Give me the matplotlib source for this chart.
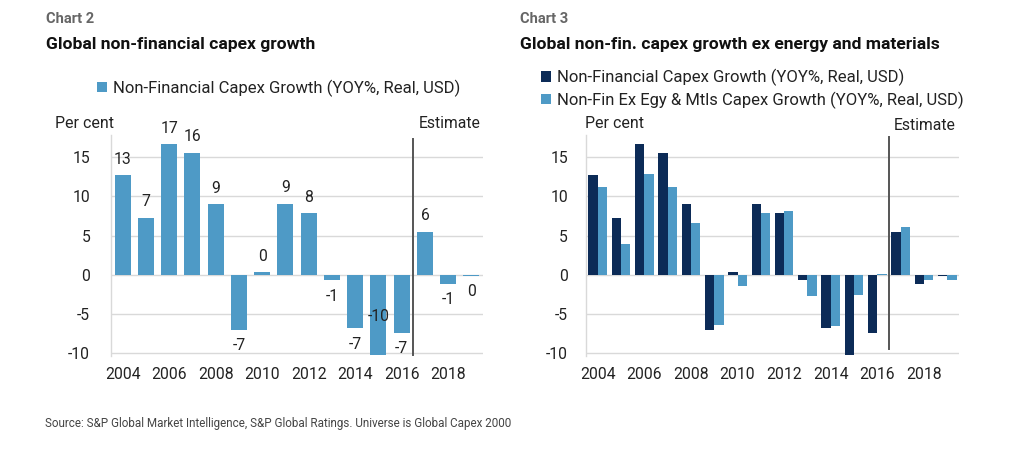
import matplotlib
matplotlib.use("Agg")
import matplotlib.pyplot as plt
import numpy as np

plt.rcParams['font.family'] = ['Roboto', 'DejaVu Sans']

years = list(range(2004, 2020))
nonfin = [12.7, 7.3, 16.7, 15.6, 9.0, -7.0, 0.4, 9.1, 7.9, -0.7, -6.8, -10.2, -7.4, 5.5, -1.1, -0.1]
nonfin_ex = [11.2, 4.0, 12.8, 11.2, 6.6, -6.4, -1.4, 7.9, 8.2, -2.7, -6.5, -2.6, 0.1, 6.1, -0.6, -0.6]
xtick_years = [2004, 2006, 2008, 2010, 2012, 2014, 2016, 2018]
yticks = [-10, -5, 0, 5, 10, 15]

label1 = "Non-Financial Capex Growth (YOY%, Real, USD)"
label2 = "Non-Fin Ex Egy & Mtls Capex Growth (YOY%, Real, USD)"

LIGHT = "#4E9AC6"
DARK = "#0C2B57"
GRID = "#D9D9D9"
TXT = "#222222"

W, H = 1019, 474
fig = plt.figure(figsize=(W / 100, H / 100), dpi=100)
fig.patch.set_facecolor("white")

def fx(px):
    return px / W

def fy(py):
    return 1 - py / H

YLIM = (-10.32, 17.83)
top_px, bot_px = 135, 356
est_split = 12.5  # between 2016 and 2017


def style_axes(ax, ypad):
    ax.set_xlim(-0.5, len(years) - 0.5)
    ax.set_ylim(*YLIM)
    ax.set_yticks(yticks)
    ax.set_yticklabels([str(t) for t in yticks])
    idx = [years.index(y) for y in xtick_years]
    ax.set_xticks(idx)
    ax.set_xticklabels([str(y) for y in xtick_years])
    ax.tick_params(axis='both', length=0, labelsize=11.3, colors=TXT)
    ax.tick_params(axis='y', pad=ypad)
    ax.tick_params(axis='x', pad=8)
    for t in yticks:
        ax.axhline(t, color=GRID, lw=1, zorder=0)
    for s in ['top', 'right', 'bottom']:
        ax.spines[s].set_visible(False)
    ax.spines['left'].set_color(GRID)
    ax.spines['left'].set_linewidth(1)
    ax.set_facecolor("white")


# ---------- Chart 2 ----------
ax1 = fig.add_axes([fx(111), fy(bot_px), fx(483) - fx(111), (bot_px - top_px) / H])
style_axes(ax1, 15)
x = np.arange(len(years))
bars1 = ax1.bar(x, nonfin, width=0.68, color=LIGHT, zorder=2, label=label1)
ax1.axvline(est_split, ymin=0.005, ymax=0.98, color="#555555", lw=1.4, zorder=3)
for xi, v in zip(x, nonfin):
    lab = str(int(round(v)))
    if v >= 0:
        ax1.annotate(lab, (xi, v), xytext=(0, 6), textcoords='offset points',
                     ha='center', va='bottom', fontsize=11.3, color=TXT)
    elif v < YLIM[0] + 1:
        ax1.annotate(lab, (xi, v), xytext=(0, 28), textcoords='offset points',
                     ha='center', va='center', fontsize=11.3, color=TXT)
    else:
        ax1.annotate(lab, (xi, v), xytext=(0, -6), textcoords='offset points',
                     ha='center', va='top', fontsize=11.3, color=TXT)

ax1.legend(handles=[bars1], loc='center left', bbox_to_anchor=(fx(97), fy(88)),
           bbox_transform=fig.transFigure, frameon=False, fontsize=12,
           handlelength=0.6, handleheight=0.6, handletextpad=0.35,
           borderpad=0, borderaxespad=0, labelcolor=TXT)

fig.text(fx(55), fy(123), "Per cent", ha='left', va='center', fontsize=11.5, color=TXT)
fig.text(fx(481), fy(124), "Estimate", ha='right', va='center', fontsize=11.3, color=TXT)
fig.text(fx(46), fy(19), "Chart 2", ha='left', va='center', fontsize=10.5,
         color="#666666", fontweight='bold')
fig.text(fx(46), fy(44), "Global non-financial capex growth", ha='left', va='center',
         fontsize=12.6, color="#111111", fontweight='bold')

# ---------- Chart 3 ----------
ax2 = fig.add_axes([fx(586), fy(bot_px), fx(959) - fx(586), (bot_px - top_px) / H])
style_axes(ax2, 13)
bw = 0.4
b_dark = ax2.bar(x - bw / 2, nonfin, width=bw, color=DARK, zorder=2, label=label1)
b_light = ax2.bar(x + bw / 2, nonfin_ex, width=bw, color=LIGHT, zorder=2, label=label2)
ax2.axvline(est_split, ymin=0.03, ymax=0.99, color="#555555", lw=1.4, zorder=3)

ax2.legend(handles=[b_dark, b_light], loc='center left', bbox_to_anchor=(fx(541), fy(89)),
           bbox_transform=fig.transFigure, frameon=False, fontsize=12,
           handlelength=0.6, handleheight=0.6, handletextpad=0.35, labelspacing=0.3,
           borderpad=0, borderaxespad=0, labelcolor=TXT)

fig.text(fx(585), fy(123), "Per cent", ha='left', va='center', fontsize=11.5, color=TXT)
fig.text(fx(956), fy(125), "Estimate", ha='right', va='center', fontsize=11.3, color=TXT)
fig.text(fx(520), fy(19), "Chart 3", ha='left', va='center', fontsize=10.5,
         color="#666666", fontweight='bold')
fig.text(fx(520), fy(44), "Global non-fin. capex growth ex energy and materials", ha='left',
         va='center', fontsize=12.6, color="#111111", fontweight='bold')

fig.text(fx(45), fy(423), "Source: S&P Global Market Intelligence, S&P Global Ratings. Universe is Global Capex 2000",
         ha='left', va='center', fontsize=8.4, color="#444444")

fig.savefig("out.png", dpi=100, facecolor="white")
